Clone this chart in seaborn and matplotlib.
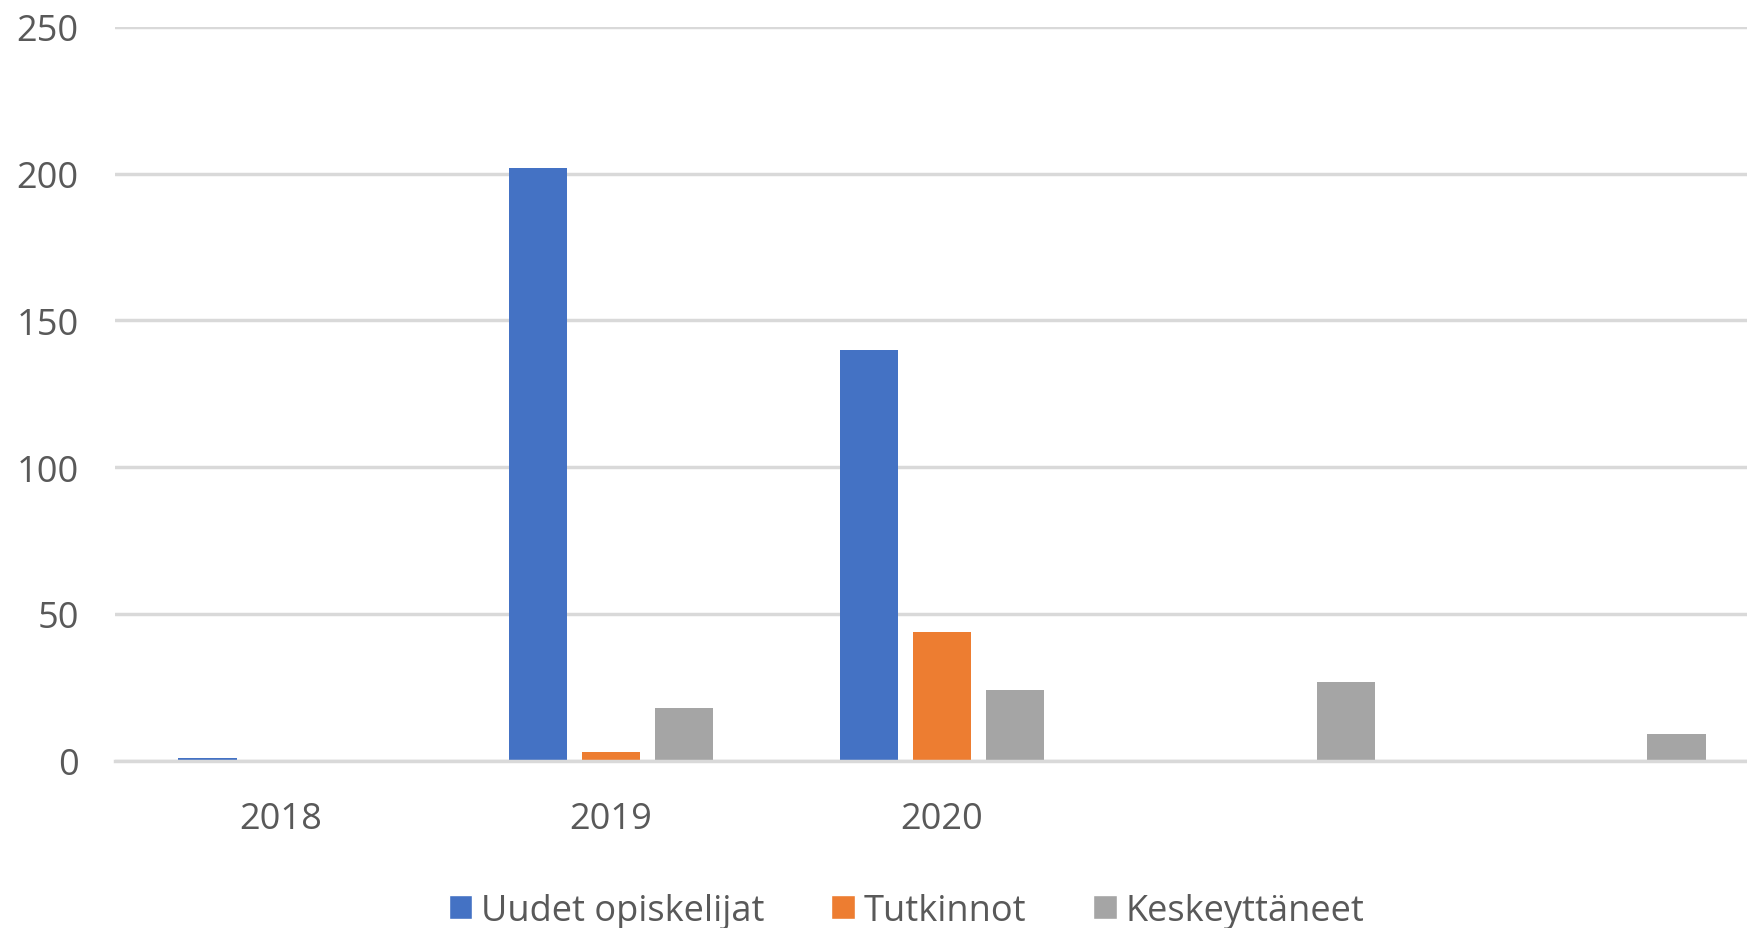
import matplotlib
matplotlib.use("Agg")
import matplotlib.pyplot as plt
import seaborn as sns
import pandas as pd
from matplotlib.patches import Patch

categories = ["2018", "2019", "2020", "c4", "c5"]
tick_labels = ["2018", "2019", "2020", "", ""]
series_names = ["Uudet opiskelijat", "Tutkinnot", "Keskeyttäneet"]
uudet = [1, 202, 140, 0, 0]
tutkinnot = [0, 3, 44, 0, 0]
keskeyttaneet = [0, 18, 24, 27, 9]
colors = ["#4472C4", "#ED7D31", "#A5A5A5"]

rows = []
for name, vals in zip(series_names, [uudet, tutkinnot, keskeyttaneet]):
    for c, v in zip(categories, vals):
        rows.append({"cat": c, "series": name, "value": v})
df = pd.DataFrame(rows)

sns.set_theme(style="white")
plt.rcParams["font.family"] = ["Open Sans", "DejaVu Sans"]
text_color = "#595959"

fig = plt.figure(figsize=(17.47, 9.29), dpi=100)
ax = fig.add_axes([0.0657, 0.180, 0.9343, 0.790])

sns.barplot(data=df, x="cat", y="value", hue="series", order=categories,
            hue_order=series_names, palette=colors, saturation=1,
            width=0.66, gap=0.2, linewidth=0, ax=ax, legend=False)

ax.set_xlim(-0.5, 4.433)
ax.set_ylim(0, 250)
ax.set_yticks([0, 50, 100, 150, 200, 250])
ax.set_xticks(range(len(categories)))
ax.set_xticklabels(tick_labels)
ax.set_xlabel("")
ax.set_ylabel("")
ax.yaxis.grid(True, color="#D9D9D9", linewidth=2.5)
ax.set_axisbelow(True)
for s in ["top", "right", "left"]:
    ax.spines[s].set_visible(False)
ax.spines["bottom"].set_color("#D9D9D9")
ax.spines["bottom"].set_linewidth(2.5)
ax.tick_params(axis="both", length=0, labelsize=26, colors=text_color)
ax.tick_params(axis="y", pad=26)
ax.tick_params(axis="x", pad=29)

handles = [Patch(facecolor=c, label=n) for c, n in zip(colors, series_names)]
fig.legend(handles=handles, loc="lower center", bbox_to_anchor=(0.519, -0.036),
           ncol=3, frameon=False, fontsize=26, labelcolor=text_color,
           handlelength=0.65, handleheight=0.65, handletextpad=0.25,
           columnspacing=1.85)

fig.savefig("out.png", dpi=100, facecolor="white")
